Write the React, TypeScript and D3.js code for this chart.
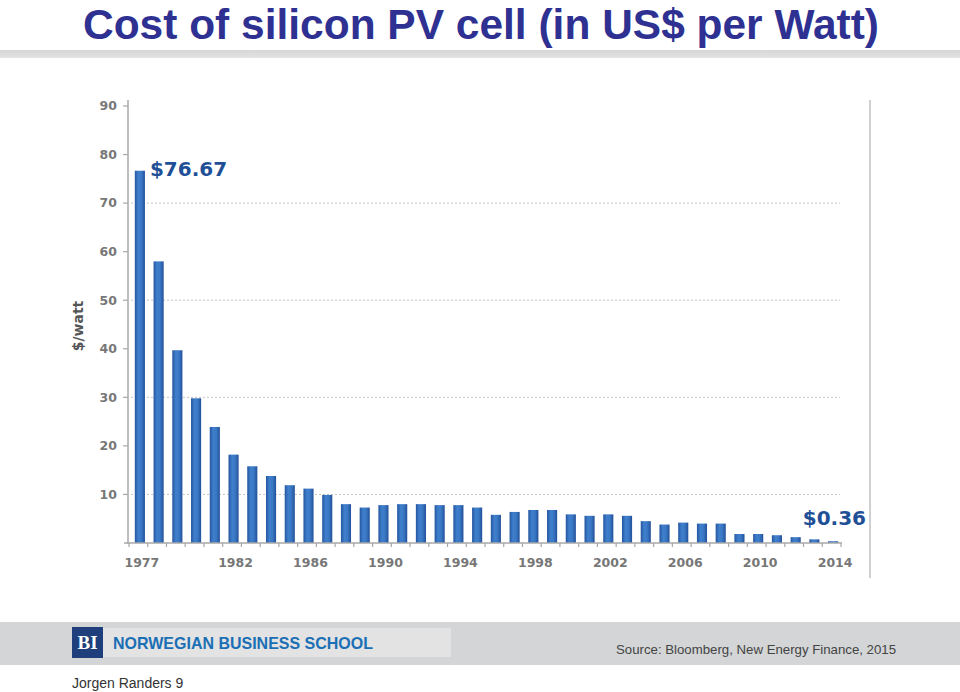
import React from "react";
import * as d3 from "d3";

const years: number[] = [
  1977, 1978, 1979, 1980, 1981, 1982, 1983, 1984, 1985, 1986, 1987, 1988, 1989,
  1990, 1991, 1992, 1993, 1994, 1995, 1996, 1997, 1998, 1999, 2000, 2001, 2002,
  2003, 2004, 2005, 2006, 2007, 2008, 2009, 2010, 2011, 2012, 2013, 2014,
];
const costs: number[] = [
  76.67, 58.0, 39.7, 29.8, 23.9, 18.2, 15.8, 13.8, 11.9, 11.2, 9.9, 8.0, 7.3,
  7.8, 8.0, 8.0, 7.8, 7.8, 7.3, 5.8, 6.4, 6.8, 6.8, 5.9, 5.6, 5.9,
  5.6, 4.5, 3.8, 4.2, 4.0, 4.0, 1.85, 1.85, 1.6, 1.2, 0.75, 0.36,
];
const yTicks: number[] = [10, 20, 30, 40, 50, 60, 70, 80, 90];
const gridValues: number[] = [10, 30, 50, 70];
const xLabelYears: number[] = [1977, 1982, 1986, 1990, 1994, 1998, 2002, 2006, 2010, 2014];

const title = "Cost of silicon PV cell (in US$ per Watt)";
const firstLabel = "$76.67";
const lastLabel = "$0.36";
const yAxisLabel = "$/watt";
const schoolName = "NORWEGIAN BUSINESS SCHOOL";
const sourceText = "Source: Bloomberg, New Energy Finance, 2015";
const footerText = "Jorgen Randers 9";

export default function App() {
  const W = 960;
  const H = 692;
  const x = d3
    .scaleBand<number>()
    .domain(years)
    .range([130.5, 842.5])
    .paddingInner(0.46)
    .paddingOuter(0.23);
  const y = d3.scaleLinear().domain([0, 90]).range([543, 106]);
  const step = x.step();
  const start = 130.5;
  const boundaries = d3.range(years.length + 1).map((i) => start + step * i - 1.5);

  const axisFont = "'DejaVu Sans', Verdana, sans-serif";
  const arial = "'Liberation Sans', Arial, sans-serif";

  return (
    <svg
      width={W}
      height={H}
      style={{ position: "absolute", left: 0, top: 0, background: "#fff" }}
    >
      <defs>
        <linearGradient id="barGrad" x1="0" x2="1" y1="0" y2="0">
          <stop offset="0" stopColor="#2556a0" />
          <stop offset="0.35" stopColor="#3f7fcc" />
          <stop offset="0.65" stopColor="#3a78c4" />
          <stop offset="1" stopColor="#22509a" />
        </linearGradient>
        <linearGradient id="bandGrad" x1="0" x2="0" y1="0" y2="1">
          <stop offset="0" stopColor="#d6d6d6" />
          <stop offset="1" stopColor="#e4e4e4" />
        </linearGradient>
      </defs>

      {/* Title */}
      <text
        x={83}
        y={39}
        textAnchor="start"
        fontFamily={arial}
        fontWeight="bold"
        fontSize={42}
        fill="#2e3192"
        textLength={796}
        lengthAdjust="spacingAndGlyphs"
      >
        {title}
      </text>
      <rect x={0} y={50} width={W} height={8} fill="url(#bandGrad)" />

      {/* Grid lines */}
      {gridValues.map((v) => (
        <line
          key={"g" + v}
          x1={131}
          x2={840}
          y1={y(v)}
          y2={y(v)}
          stroke="#c4c4c4"
          strokeWidth={1}
          strokeDasharray="2,2"
        />
      ))}

      {/* Bars */}
      {years.map((yr, i) => (
        <rect
          key={yr}
          x={x(yr)}
          y={y(costs[i])}
          width={x.bandwidth()}
          height={y(0) - y(costs[i])}
          fill="url(#barGrad)"
        />
      ))}

      {/* Y axis */}
      <line x1={128} x2={128} y1={100} y2={544} stroke="#a8a8a8" strokeWidth={1.5} />
      {yTicks.map((v) => (
        <g key={"y" + v}>
          <line x1={123} x2={128} y1={y(v)} y2={y(v)} stroke="#a8a8a8" strokeWidth={1.2} />
          <text
            x={117}
            y={y(v)}
            dy="0.35em"
            textAnchor="end"
            fontFamily={axisFont}
            fontWeight="bold"
            fontSize={12.5}
            fill="#777"
          >
            {v}
          </text>
        </g>
      ))}
      <text
        transform={`translate(83,${326}) rotate(-90)`}
        textAnchor="middle"
        fontFamily={axisFont}
        fontWeight="bold"
        fontSize={14}
        fill="#555"
      >
        {yAxisLabel}
      </text>

      {/* X axis */}
      <line x1={124} x2={842} y1={543} y2={543} stroke="#a8a8a8" strokeWidth={1.5} />
      {boundaries.map((bx, i) => (
        <line key={"t" + i} x1={bx} x2={bx} y1={543} y2={547} stroke="#a8a8a8" strokeWidth={1.2} />
      ))}
      {xLabelYears.map((yr) => (
        <text
          key={"xl" + yr}
          x={(x(yr) as number) + x.bandwidth() / 2 + 2}
          y={567}
          textAnchor="middle"
          fontFamily={axisFont}
          fontWeight="bold"
          fontSize={12.5}
          fill="#777"
        >
          {yr}
        </text>
      ))}

      {/* Annotations */}
      <text
        x={(x(years[0]) as number) + x.bandwidth() + 5}
        y={176}
        fontFamily={axisFont}
        fontWeight="bold"
        fontSize={20}
        fill="#1f4f96"
      >
        {firstLabel}
      </text>
      <text
        x={866}
        y={525}
        textAnchor="end"
        fontFamily={axisFont}
        fontWeight="bold"
        fontSize={20}
        fill="#1f4f96"
      >
        {lastLabel}
      </text>

      {/* Right border line */}
      <line x1={870} x2={870} y1={100} y2={578} stroke="#d0d0d0" strokeWidth={2} />

      {/* Footer */}
      <rect x={0} y={622} width={W} height={43} fill="#d3d5d6" />
      <rect x={72} y={628} width={379} height={29} fill="#e3e3e3" />
      <rect x={72} y={627} width={31} height={31} fill="#1e3f7c" />
      <text
        x={87.5}
        y={649}
        textAnchor="middle"
        fontFamily="'Liberation Serif', 'DejaVu Serif', serif"
        fontWeight="bold"
        fontSize={19}
        fill="#fff"
      >
        BI
      </text>
      <text
        x={113}
        y={649}
        fontFamily={arial}
        fontWeight="bold"
        fontSize={17}
        fill="#1b6fb5"
        textLength={260}
        lengthAdjust="spacingAndGlyphs"
      >
        {schoolName}
      </text>
      <text x={616} y={654} fontFamily={arial} fontSize={13} fill="#444" textLength={280} lengthAdjust="spacingAndGlyphs">
        {sourceText}
      </text>
      <text x={72} y={688} fontFamily={arial} fontSize={14} fill="#333">
        {footerText}
      </text>
    </svg>
  );
}
